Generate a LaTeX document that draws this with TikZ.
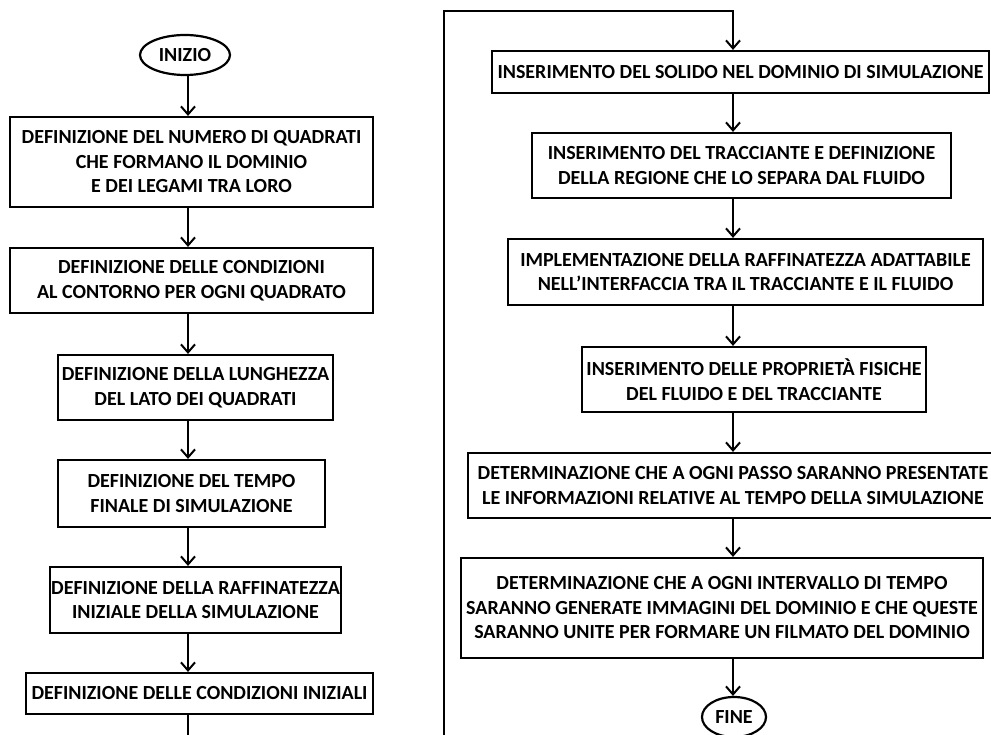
\documentclass[tikz,border=0pt]{standalone}
\usepackage{fontspec}
\setmainfont{Carlito}
\usetikzlibrary{shapes.geometric,arrows.meta}
\begin{document}
\begin{tikzpicture}[x=1pt,y=-1pt,
  txt/.style={font=\fontsize{20}{24.5}\selectfont\bfseries},
  box/.style={txt, draw, line width=2.2pt, rectangle, inner sep=0pt, align=center},
  term/.style={txt, draw, line width=2.2pt, ellipse, inner sep=0pt},
  arr/.style={line width=2pt, -{Straight Barb[length=8pt,width=14pt,line width=2pt]}},
  conn/.style={line width=2pt}
]
\useasboundingbox (0,0) rectangle (991,735);
\fill[white] (0,0) rectangle (991,735);

% column axes
\coordinate (L) at (188,0);
\coordinate (R) at (733,0);

% left column
\node[term, minimum width=90pt, minimum height=40pt] (inizio) at (185,55) {INIZIO};
\node[box, minimum width=363pt, minimum height=90pt] (b1) at (191.5,162)
  {DEFINIZIONE DEL NUMERO DI QUADRATI\\CHE FORMANO IL DOMINIO\\E DEI LEGAMI TRA LORO};
\node[box, minimum width=363pt, minimum height=65pt] (b2) at (191.5,280.5)
  {DEFINIZIONE DELLE CONDIZIONI\\AL CONTORNO PER OGNI QUADRATO};
\node[box, minimum width=275pt, minimum height=65pt] (b3) at (195.5,387.5)
  {DEFINIZIONE DELLA LUNGHEZZA\\DEL LATO DEI QUADRATI};
\node[box, minimum width=267pt, minimum height=67pt] (b4) at (191.5,493.5)
  {DEFINIZIONE DEL TEMPO\\FINALE DI SIMULAZIONE};
\node[box, minimum width=291pt, minimum height=66pt] (b5) at (195.5,600)
  {DEFINIZIONE DELLA RAFFINATEZZA\\INIZIALE DELLA SIMULAZIONE};
\node[box, minimum width=347pt, minimum height=41pt] (b6) at (199.5,693.5)
  {DEFINIZIONE DELLE CONDIZIONI INIZIALI};

\draw[arr] (inizio.south -| L) -- (L |- b1.north);
\draw[arr] (L |- b1.south) -- (L |- b2.north);
\draw[arr] (L |- b2.south) -- (L |- b3.north);
\draw[arr] (L |- b3.south) -- (L |- b4.north);
\draw[arr] (L |- b4.south) -- (L |- b5.north);
\draw[arr] (L |- b5.south) -- (L |- b6.north);
\coordinate (Lend) at (188,736);
\draw[conn] (L |- b6.south) -- (Lend);

% right column
\node[box, minimum width=497pt, minimum height=42pt] (r1) at (740.5,72)
  {INSERIMENTO DEL SOLIDO NEL DOMINIO DI SIMULAZIONE};
\node[box, minimum width=419pt, minimum height=65pt] (r2) at (741.5,165.5)
  {INSERIMENTO DEL TRACCIANTE E DEFINIZIONE\\DELLA REGIONE CHE LO SEPARA DAL FLUIDO};
\node[box, minimum width=475pt, minimum height=66pt] (r3) at (745.5,272)
  {IMPLEMENTAZIONE DELLA RAFFINATEZZA ADATTABILE\\NELL’INTERFACCIA TRA IL TRACCIANTE E IL FLUIDO};
\node[box, minimum width=344pt, minimum height=65pt] (r4) at (754,379.5)
  {INSERIMENTO DELLE PROPRIETÀ FISICHE\\DEL FLUIDO E DEL TRACCIANTE};
\node[box, minimum width=530pt, minimum height=65pt] (r5) at (733,485.5)
  {DETERMINAZIONE CHE A OGNI PASSO SARANNO PRESENTATE\\LE INFORMAZIONI RELATIVE AL TEMPO DELLA SIMULAZIONE};
\node[box, minimum width=522pt, minimum height=100pt] (r6) at (722,608)
  {DETERMINAZIONE CHE A OGNI INTERVALLO DI TEMPO\\SARANNO GENERATE IMMAGINI DEL DOMINIO E CHE QUESTE\\SARANNO UNITE PER FORMARE UN FILMATO DEL DOMINIO};
\node[term, minimum width=64pt, minimum height=40pt] (fine) at (734,717) {FINE};

\coordinate (Rbot) at (444,736);
\coordinate (Rtop) at (444,11);
\draw[arr, line join=miter] (Rbot) -- (Rtop) -| (R |- r1.north);
\draw[arr] (R |- r1.south) -- (R |- r2.north);
\draw[arr] (R |- r2.south) -- (R |- r3.north);
\draw[arr] (R |- r3.south) -- (R |- r4.north);
\draw[arr] (R |- r4.south) -- (R |- r5.north);
\draw[arr] (R |- r5.south) -- (R |- r6.north);
\draw[arr] (R |- r6.south) -- (fine.north -| R);
\end{tikzpicture}
\end{document}
